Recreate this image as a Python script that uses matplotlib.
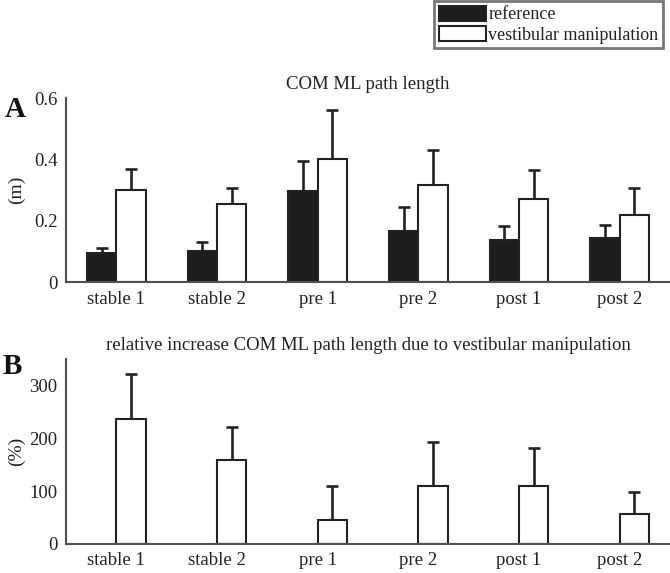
import numpy as np
import matplotlib
matplotlib.use("Agg")
import matplotlib.pyplot as plt
from matplotlib.patches import Patch

plt.rcParams['font.family'] = ['Liberation Serif', 'DejaVu Serif']

categories = ["stable 1", "stable 2", "pre 1", "pre 2", "post 1", "post 2"]
ref_mean = [0.095, 0.103, 0.299, 0.167, 0.138, 0.143]
ref_sd = [0.016, 0.030, 0.097, 0.080, 0.044, 0.044]
vest_mean = [0.301, 0.254, 0.401, 0.317, 0.271, 0.221]
vest_sd = [0.069, 0.055, 0.160, 0.115, 0.094, 0.087]
rel_mean = [237, 159, 45, 110, 109, 57]
rel_sd = [85, 63, 65, 83, 73, 41]
a_ticks = [0, 0.2, 0.4, 0.6]
a_ticklabels = ["0", "0.2", "0.4", "0.6"]
b_ticks = [0, 100, 200, 300]

W, H = 670, 573
fig = plt.figure(figsize=(W / 100, H / 100), dpi=100)

def px_axes(left, right, top, bottom):
    return fig.add_axes([left / W, 1 - bottom / H, (right - left) / W, (bottom - top) / H])

axA = px_axes(66, 670, 98.3, 282.3)
axB = px_axes(66, 670, 359.3, 543.7)

x = np.arange(1, len(categories) + 1)
w = 0.29
edge = '#222222'
fs = 13.5

def style(ax):
    for s in ['top', 'right']:
        ax.spines[s].set_visible(False)
    for s in ['left', 'bottom']:
        ax.spines[s].set_color('#505050')
        ax.spines[s].set_linewidth(1.5)
    ax.tick_params(length=0, labelsize=fs, pad=6, colors='#222222')
    ax.set_xlim(0.5, 6.5)
    ax.set_xticks(x)
    ax.set_xticklabels(categories)

# Panel A
axA.bar(x - w / 2, ref_mean, w, color='#1e1c1c', edgecolor=edge, linewidth=1.5, zorder=2)
axA.bar(x + w / 2, vest_mean, w, color='white', edgecolor=edge, linewidth=1.5, zorder=2)
axA.errorbar(x - w / 2, ref_mean, yerr=[np.zeros(len(ref_sd)), ref_sd], fmt='none',
             ecolor=edge, elinewidth=1.9, capsize=4.3, capthick=1.9, zorder=1)
axA.errorbar(x + w / 2, vest_mean, yerr=[np.zeros(len(vest_sd)), vest_sd], fmt='none',
             ecolor=edge, elinewidth=1.9, capsize=4.3, capthick=1.9, zorder=1)
style(axA)
axA.set_ylim(0, 0.6)
axA.set_yticks(a_ticks)
axA.set_yticklabels(a_ticklabels)
axA.set_ylabel("(m)", fontsize=14, color='#222222')
axA.yaxis.set_label_coords(-0.068, 0.5)
axA.set_title("COM ML path length", fontsize=fs, pad=7, color='#222222')

# Panel B
axB.bar(x + w / 2, rel_mean, w, color='white', edgecolor=edge, linewidth=1.5, zorder=2)
axB.errorbar(x + w / 2, rel_mean, yerr=[np.zeros(len(rel_sd)), rel_sd], fmt='none',
             ecolor=edge, elinewidth=1.9, capsize=4.3, capthick=1.9, zorder=1)
style(axB)
axB.set_ylim(0, 350)
axB.set_yticks(b_ticks)
axB.set_ylabel("(%)", fontsize=14, color='#222222')
axB.yaxis.set_label_coords(-0.068, 0.5)
axB.set_title("relative increase COM ML path length due to vestibular manipulation",
              fontsize=fs, pad=7, color='#222222')

# Panel letters
fig.text(5 / W, 1 - 117 / H, "A", fontsize=21, fontweight='bold', va='baseline', ha='left', color='#111111')
fig.text(3 / W, 1 - 374 / H, "B", fontsize=21, fontweight='bold', va='baseline', ha='left', color='#111111')

# Legend
handles = [Patch(facecolor='#1e1c1c', edgecolor=edge, linewidth=1.5),
           Patch(facecolor='white', edgecolor=edge, linewidth=1.5)]
leg = fig.legend(handles, ["reference", "vestibular manipulation"], loc='upper right',
                 bbox_to_anchor=(663 / W, 1 - 1 / H), fontsize=13, frameon=True,
                 fancybox=False, borderpad=0.25, labelspacing=0.15, handlelength=2.6,
                 handleheight=0.9, handletextpad=0.15, borderaxespad=0)
leg.get_frame().set_edgecolor('#555555')
leg.get_frame().set_linewidth(2)
for t in leg.get_texts():
    t.set_color('#222222')

fig.savefig("out.png", dpi=100)
